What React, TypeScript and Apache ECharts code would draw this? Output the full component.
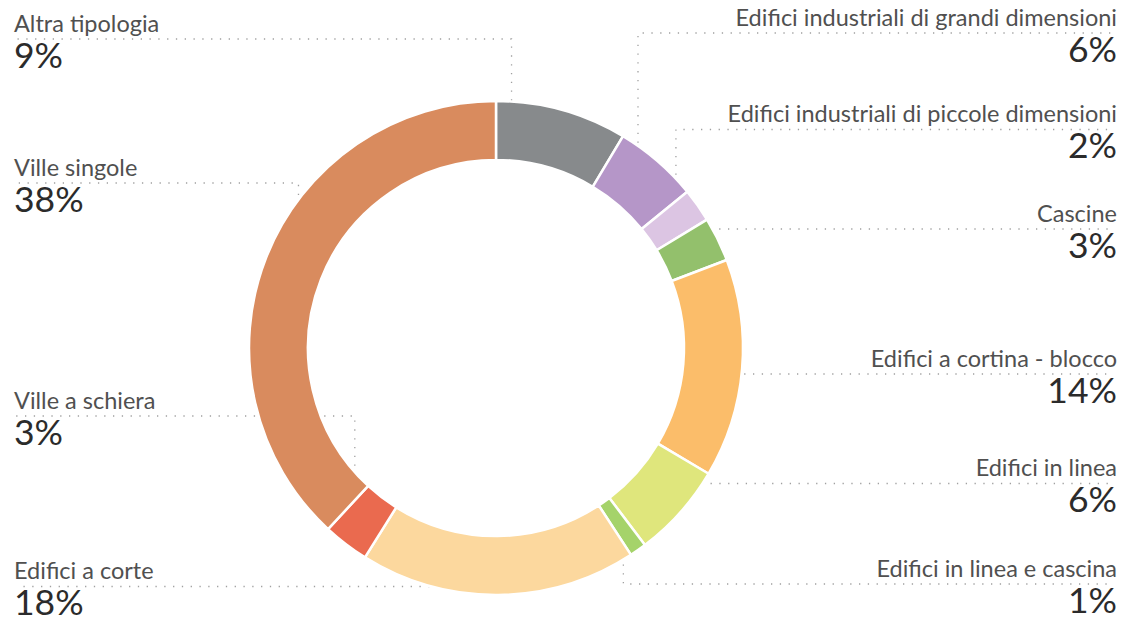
import React, { useEffect, useRef } from 'react';
import * as echarts from 'echarts';

// ---- data ----
const CATEGORIES = [
  'Altra tipologia',
  'Edifici industriali di grandi dimensioni',
  'Edifici industriali di piccole dimensioni',
  'Cascine',
  'Edifici a cortina - blocco',
  'Edifici in linea',
  'Edifici in linea e cascina',
  'Edifici a corte',
  'Ville a schiera',
  'Ville singole',
];
const VALUES = [8.6, 5.5, 2.2, 2.9, 14.3, 6.2, 1.1, 18.1, 3.0, 38.1];
const COLORS = [
  '#878a8c',
  '#b596c8',
  '#dcc5e3',
  '#93c06c',
  '#fbbd6a',
  '#dfe67c',
  '#a5d36a',
  '#fcd89e',
  '#ea6a4f',
  '#d98b5e',
];

// ---- label layout (positions of the annotation texts) ----
const LABEL_SIDE = ['left', 'right', 'right', 'right', 'right', 'right', 'right', 'left', 'left', 'left'];
const LABEL_LINE_Y = [39, 33, 129.5, 229, 374, 483.5, 584, 586.5, 416, 183];
const LEADER_ANCHOR = [0.13, 0.45, 0.45, 0.4, 0.45, 0.43, 0.5, 0.6, 0.7, 0.54];

const CENTER = [496, 348];
const RADIUS = [188, 247];
const FONT = 'Lato, "Open Sans", sans-serif';

export default function App() {
  const ref = useRef<HTMLDivElement>(null);

  useEffect(() => {
    if (!ref.current) return;
    const chart = echarts.init(ref.current, undefined, { renderer: 'svg' });
    const total = VALUES.reduce((a, b) => a + b, 0);
    const W = 1126;

    chart.setOption({
      animation: false,
      backgroundColor: '#ffffff',
      textStyle: { fontFamily: FONT },
      series: [
        {
          type: 'pie',
          center: CENTER,
          radius: RADIUS,
          startAngle: 90,
          clockwise: true,
          avoidLabelOverlap: false,
          emphasis: { disabled: true },
          itemStyle: { borderColor: '#ffffff', borderWidth: 2.5 },
          data: CATEGORIES.map((name, i) => ({
            name,
            value: VALUES[i],
            itemStyle: { color: COLORS[i] },
          })),
          label: {
            show: true,
            position: 'outside',
            overflow: 'none',
            formatter: (p: any) => `{n|${p.name}}\n{p|${Math.round(p.value)}%}`,
            rich: {
              n: { fontFamily: FONT, fontSize: 23.5, color: '#505050', lineHeight: 30 },
              p: { fontFamily: FONT, fontSize: 35.5, color: '#2b2b2b', lineHeight: 32.8 },
            },
          },
          labelLine: {
            show: true,
            showAbove: true,
            smooth: false,
            lineStyle: { color: '#a0a0a0', width: 1.3, type: [1.3, 7.5] },
          },
          labelLayout: (params: any) => {
            const i = params.dataIndex;
            let cum = 0;
            for (let j = 0; j < i; j++) cum += VALUES[j];
            const frac = (cum + VALUES[i] * LEADER_ANCHOR[i]) / total;
            const ang = frac * 2 * Math.PI;
            const r = (RADIUS[0] + RADIUS[1]) / 2 + 4;
            const sx = CENTER[0] + r * Math.sin(ang);
            const sy = CENTER[1] - r * Math.cos(ang);
            const L = LABEL_LINE_Y[i];
            const left = LABEL_SIDE[i] === 'left';
            const ex = left ? 16 : W - 14;
            return {
              x: left ? 14 : W - 9,
              y: L - 31.1,
              align: left ? 'left' : 'right',
              verticalAlign: 'top',
              labelLinePoints: [
                [sx, sy],
                [sx, L],
                [ex, L],
              ],
            };
          },
        },
      ],
    });

    return () => chart.dispose();
  }, []);

  return (
    <div
      ref={ref}
      style={{ position: 'fixed', left: 0, top: 0, width: 1126, height: 624, background: '#fff' }}
    />
  );
}
